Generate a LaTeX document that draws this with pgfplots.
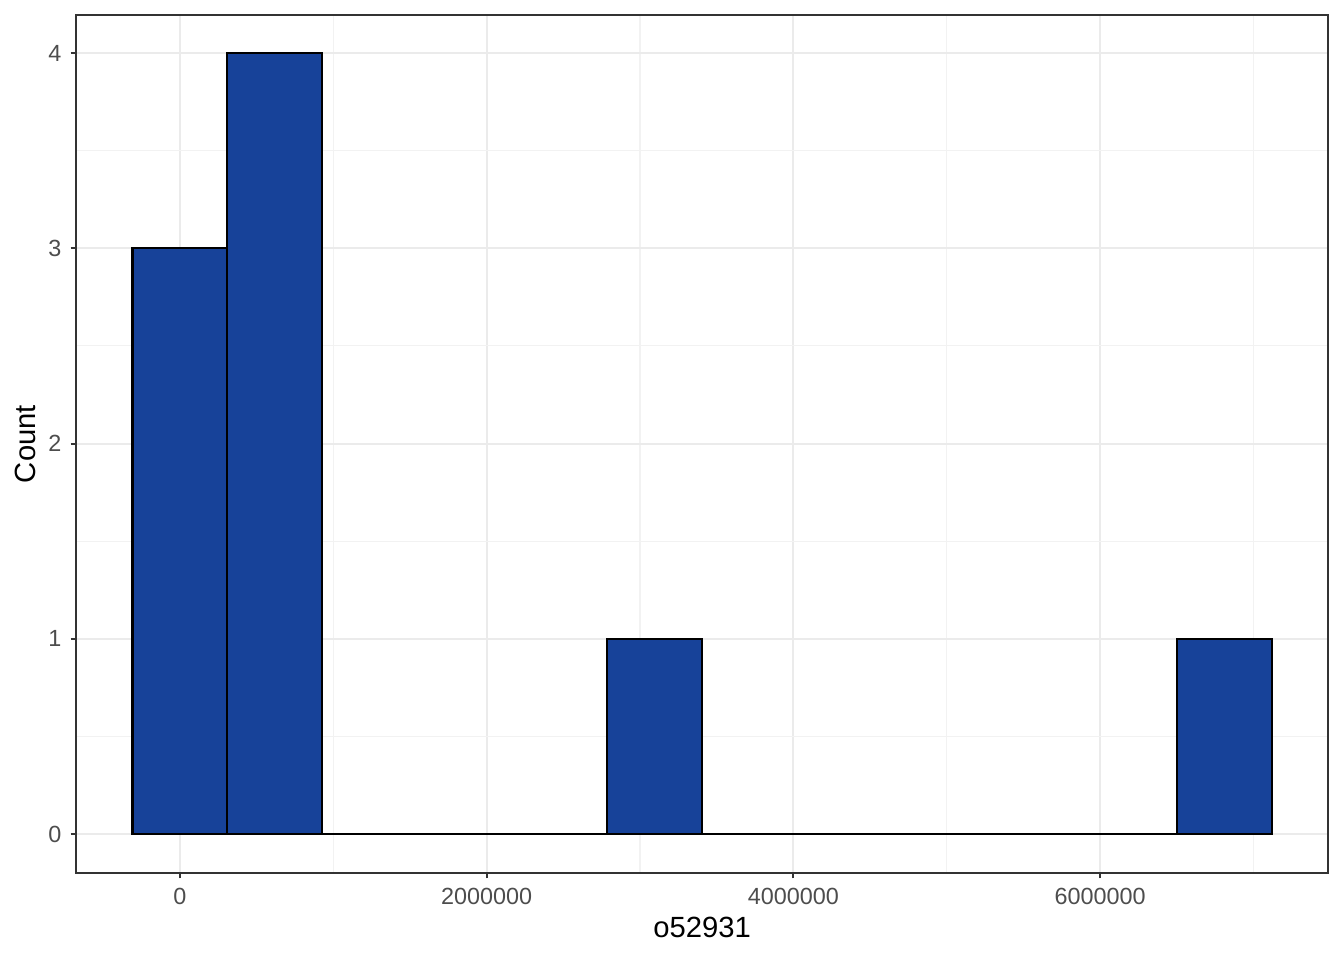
\documentclass[border=0pt]{standalone}
\usepackage{fontspec}
\setmainfont{Liberation Sans}
\usepackage{pgfplots}
\pgfplotsset{compat=1.18}

\definecolor{barfill}{HTML}{174299}
\definecolor{gridmaj}{HTML}{EBEBEB}
\definecolor{gridmin}{HTML}{F2F2F2}
\definecolor{axgray}{HTML}{333333}
\definecolor{ticktxt}{HTML}{4D4D4D}

\begin{document}
\begin{tikzpicture}
\begin{axis}[
    scale only axis,
    width=471.3pt, height=323pt,
    xmin=-678000, xmax=7487000,
    ymin=-0.2, ymax=4.195,
    axis line style={axgray, line width=0.8pt},
    tick align=outside,
    major tick length=2pt,
    minor tick length=0pt,
    tick style={axgray, line width=0.8pt},
    xtick={0,2000000,4000000,6000000},
    xticklabels={0,2000000,4000000,6000000},
    scaled x ticks=false,
    minor xtick={1000000,3000000,5000000,7000000},
    ytick={0,1,2,3,4},
    minor ytick={0.5,1.5,2.5,3.5},
    xtick pos=bottom, ytick pos=left,
    grid=both,
    major grid style={gridmaj, line width=0.8pt},
    minor grid style={gridmin, line width=0.4pt},
    ticklabel style={font=\fontsize{8.8}{10}\selectfont, text=ticktxt},
    /pgf/number format/assume math mode=true,
    xlabel={o52931}, ylabel={Count},
    label style={font=\fontsize{11}{13}\selectfont},
    xlabel style={yshift=2pt},
    ylabel style={yshift=-2pt},
    axis on top=false,
]
\addplot[ybar interval, fill=barfill, draw=black, line width=0.8pt] coordinates {
(-309500,3) (309500,4) (928500,0) (1547500,0) (2166500,0) (2785500,1)
(3404500,0) (4023500,0) (4642500,0) (5261500,0) (5880500,0) (6499500,1)
(7118500,1)
};
\end{axis}
\path[use as bounding box] ([xshift=-28.6pt,yshift=-32.7pt]current axis.south west) rectangle ([xshift=6pt,yshift=5.65pt]current axis.north east);
\end{tikzpicture}
\end{document}
